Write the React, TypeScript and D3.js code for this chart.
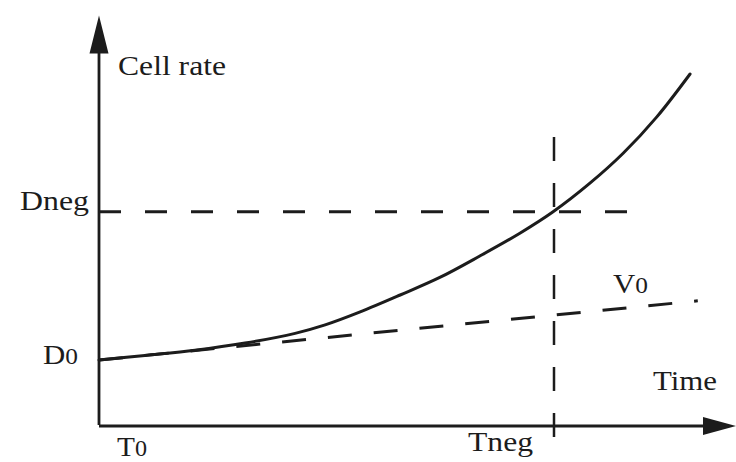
import React from "react";
import * as d3 from "d3";

// Curve (time units, rate units)
const TIME = [0, 1.01, 2.11, 3.21, 4.31, 4.97, 5.74, 6.62, 7.49, 8.37, 9.25, 9.98, 10.79, 11.52, 12.26, 12.99];
const RATE = [1.0, 1.07, 1.15, 1.26, 1.41, 1.54, 1.74, 2.0, 2.27, 2.6, 2.95, 3.28, 3.72, 4.18, 4.74, 5.4];

// V0 tangent line
const V0_TIME = [0, 13.16];
const V0_RATE = [1.0, 1.91];

// reference levels
const T0 = 0;
const T_NEG = 10;
const D0 = 1;
const D_NEG = 3.28;
const DNEG_LINE_END = 11.93;
const TNEG_LINE = [-0.31, 4.43];

const X_MAX = 14;
const Y_MAX = 6.3;

const W = 736;
const H = 462;
const INK = "#1c1c1c";
const FONT = "'Liberation Serif', 'DejaVu Serif', serif";

export default function App() {
  const x = d3.scaleLinear().domain([0, X_MAX]).range([99, 736]);
  const y = d3.scaleLinear().domain([0, Y_MAX]).range([425, 15.5]);

  const pts: [number, number][] = TIME.map((t, i) => [t, RATE[i]]);
  const curve = d3
    .line<[number, number]>()
    .x((d) => x(d[0]))
    .y((d) => y(d[1]))
    .curve(d3.curveCatmullRom.alpha(0.5))(pts) as string;

  const v0Pts: [number, number][] = V0_TIME.map((t, i) => [t, V0_RATE[i]]);
  const v0Line = d3
    .line<[number, number]>()
    .x((d) => x(d[0]))
    .y((d) => y(d[1]))(v0Pts) as string;

  const ax = x(0);
  const ay = y(0);
  const topY = y(Y_MAX);
  const rightX = x(X_MAX);

  const tp = { fontFamily: FONT, fontSize: 28, fill: INK, lengthAdjust: "spacingAndGlyphs" as const };

  return (
    <svg
      width={W}
      height={H}
      style={{ position: "absolute", left: 0, top: 0, background: "#fff" }}
    >
      <rect x={0} y={0} width={W} height={H} fill="#fff" />
      {/* Dneg horizontal dashed */}
      <line
        x1={ax}
        x2={x(DNEG_LINE_END)}
        y1={y(D_NEG)}
        y2={y(D_NEG)}
        stroke={INK}
        strokeWidth={3}
        strokeDasharray="22 24"
      />
      {/* Tneg vertical dashed */}
      <line
        x1={x(T_NEG)}
        x2={x(T_NEG)}
        y1={y(TNEG_LINE[1])}
        y2={y(TNEG_LINE[0])}
        stroke={INK}
        strokeWidth={2.5}
        strokeDasharray="24 22"
      />
      {/* V0 dashed tangent */}
      <path d={v0Line} fill="none" stroke={INK} strokeWidth={3} strokeDasharray="24 22" />
      {/* curve */}
      <path d={curve} fill="none" stroke={INK} strokeWidth={3} strokeLinecap="round" />

      {/* axes */}
      <line x1={ax} x2={ax} y1={ay} y2={topY + 30} stroke={INK} strokeWidth={2.8} />
      <polygon
        points={`${ax},${topY} ${ax - 9.5},${topY + 38} ${ax + 9.5},${topY + 38}`}
        fill={INK}
      />
      <line x1={ax} x2={rightX - 26} y1={ay + 1} y2={ay + 1} stroke={INK} strokeWidth={2.8} />
      <polygon
        points={`${rightX},${ay + 1} ${rightX - 33},${ay - 8} ${rightX - 33},${ay + 10}`}
        fill={INK}
      />

      {/* labels */}
      <text x={ax + 19} y={topY + 59} {...tp} textLength={108}>Cell rate</text>
      <text x={20} y={y(D_NEG) - 2} {...tp} textLength={69}>Dneg</text>
      <text x={43} y={y(D0) + 4} {...tp} textLength={35}>
        D<tspan fontSize={23}>0</tspan>
      </text>
      <text x={x(T0) + 18} y={ay + 31} {...tp} textLength={30}>
        T<tspan fontSize={23}>0</tspan>
      </text>
      <text x={x(T_NEG) - 86} y={ay + 26} {...tp} textLength={65}>Tneg</text>
      <text x={653} y={390} {...tp} textLength={64}>Time</text>
      <text x={613} y={293} {...tp} textLength={35}>
        V<tspan fontSize={23}>0</tspan>
      </text>
    </svg>
  );
}
